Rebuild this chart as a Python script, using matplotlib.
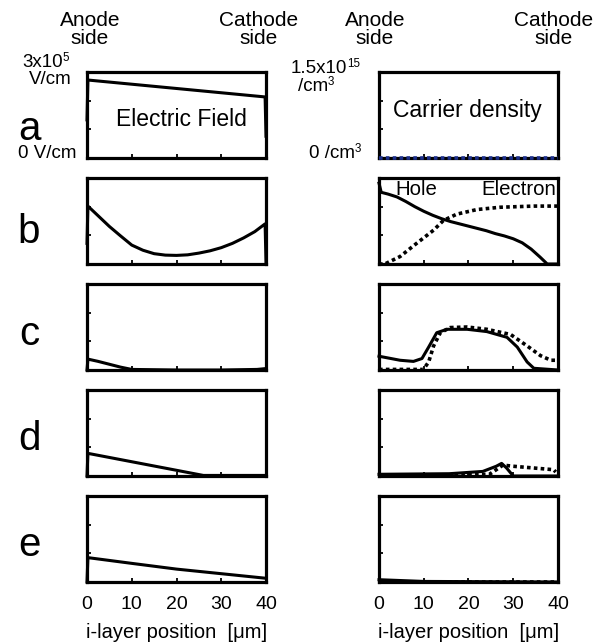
import matplotlib
matplotlib.use("Agg")
import matplotlib.pyplot as plt

plt.rcParams["font.family"] = ["Liberation Sans", "DejaVu Sans"]

# electric field, units of 1e5 V/cm, vs i-layer position [um]
field_a_x = [0, 0.2, 39.8, 40]
field_a = [1.33, 2.72, 2.13, 0.76]
field_b_x = [0, 0.2, 2.5, 5, 7.5, 10, 12.5, 15, 17.5, 20, 22.5, 25, 27.5, 30,
             32.5, 35, 37.5, 39.8, 40]
field_b = [0.72, 2.02, 1.68, 1.31, 0.98, 0.66, 0.48, 0.36, 0.31, 0.30, 0.32,
           0.38, 0.46, 0.57, 0.72, 0.91, 1.13, 1.40, 0.05]
field_c_x = [0, 0.2, 2.5, 5, 7.5, 10, 20, 30, 38, 40]
field_c = [0.0, 0.38, 0.30, 0.20, 0.10, 0.02, 0.0, 0.0, 0.02, 0.05]
field_d_x = [0, 0.2, 26, 40]
field_d = [0.0, 0.79, 0.02, 0.02]
field_e_x = [0, 0.2, 10, 20, 30, 40]
field_e = [0.0, 0.85, 0.65, 0.45, 0.29, 0.13]

# carrier density, units of 1e15 /cm3
hole_a_x = [0, 40]
hole_a = [0.0, 0.0]
elec_a_x = [0, 40]
elec_a = [0.0, 0.0]
hole_b_x = [0, 0.5, 2, 4, 6, 8, 10, 12, 14, 16, 18, 20, 22, 24, 26, 28, 30,
            32, 34, 36, 37.6, 40]
hole_b = [1.41, 1.25, 1.22, 1.17, 1.09, 1.00, 0.92, 0.85, 0.79, 0.74, 0.70,
          0.66, 0.62, 0.58, 0.53, 0.49, 0.44, 0.37, 0.26, 0.12, 0.0, 0.0]
elec_b_x = [0, 1.3, 4.7, 8.4, 12.2, 14.4, 17.4, 21.9, 27.1, 34.6, 40]
elec_b = [0.0, 0.0, 0.13, 0.36, 0.59, 0.76, 0.87, 0.95, 0.99, 1.01, 1.01]
hole_c_x = [0, 4.7, 7.7, 9.6, 11.1, 12.9, 15.2, 19.7, 24.1, 28.6, 30.9, 33.1, 34.6, 40]
hole_c = [0.24, 0.17, 0.15, 0.20, 0.40, 0.65, 0.71, 0.71, 0.67, 0.57, 0.40, 0.14, 0.03, 0.0]
elec_c_x = [0, 9.9, 11.1, 12.2, 13.7, 15.9, 19.7, 24.1, 29.4, 33.1, 36.1, 38.4, 40]
elec_c = [0.01, 0.01, 0.14, 0.42, 0.65, 0.74, 0.75, 0.71, 0.62, 0.42, 0.25, 0.17, 0.17]
hole_d_x = [0, 15.7, 23.2, 26.2, 27.4, 28.5, 30, 40]
hole_d = [0.03, 0.04, 0.08, 0.17, 0.22, 0.14, 0.0, 0.0]
elec_d_x = [0, 24.7, 26.2, 27.7, 30, 34.5, 39, 39.5]
elec_d = [0.0, 0.03, 0.11, 0.19, 0.17, 0.14, 0.11, 0.07]
hole_e_x = [0, 10, 40]
hole_e = [0.04, 0.01, 0.0]
elec_e_x = [0, 40]
elec_e = [0.0, 0.0]

row_labels = ["a", "b", "c", "d", "e"]
x_ticks = [0, 10, 20, 30, 40]

fields = [(field_a_x, field_a), (field_b_x, field_b), (field_c_x, field_c),
          (field_d_x, field_d), (field_e_x, field_e)]
holes = [(hole_a_x, hole_a), (hole_b_x, hole_b), (hole_c_x, hole_c),
         (hole_d_x, hole_d), (hole_e_x, hole_e)]
elecs = [(elec_a_x, elec_a), (elec_b_x, elec_b), (elec_c_x, elec_c),
         (elec_d_x, elec_d), (elec_e_x, elec_e)]

W, H = 608, 643
fig = plt.figure(figsize=(W / 100, H / 100), dpi=100)

DOTS = (0, (1, 0.9))


def px_axes(x0, y0, w, h):
    return fig.add_axes([x0 / W, 1 - (y0 + h) / H, w / W, h / H])


def px_text(x, y, s, **kw):
    return fig.text(x / W, 1 - y / H, s, **kw)


def add_sup(t, sup, size=13.5):
    """Small raised superscript placed right after text t."""
    fig.add_artist(plt.Annotation(sup, xy=(1, 0), xycoords=t,
                                  xytext=(-0.3, 7.5), textcoords="offset points",
                                  fontsize=size * 0.62, va="baseline"))


def style(ax, ymax, last):
    ax.set_xlim(0, 40)
    ax.set_ylim(0, ymax)
    for s in ax.spines.values():
        s.set_linewidth(2.3)
    ax.set_yticks([ymax / 3, 2 * ymax / 3])
    ax.set_yticklabels([])
    ax.tick_params(direction="in", length=3, width=1.3)
    ax.tick_params(axis="x", pad=10, labelsize=14)
    if last:
        ax.set_xticks(x_ticks)
        ax.set_xticklabels([str(t) for t in x_ticks])
        ax.set_xlabel("i-layer position  [μm]", fontsize=14.5, labelpad=7)
    else:
        ax.set_xticks(x_ticks[1:-1])
        ax.set_xticklabels([])


tops = [72, 178, 284, 390, 496]
baselines = [140, 243, 345, 450, 556]
for i, top in enumerate(tops):
    last = i == len(tops) - 1
    axl = px_axes(87, top, 179, 86)
    fx, fv = fields[i]
    axl.plot(fx, fv, color="black", lw=2.2, clip_on=False, zorder=3)
    style(axl, 3.0, last)

    axr = px_axes(379, top, 179, 86)
    hx, hv = holes[i]
    ex, ev = elecs[i]
    axr.plot(hx, hv, color="black", lw=2.2, clip_on=False, zorder=3)
    axr.plot(ex, ev, color="#1c2f8c" if i == 0 else "black", lw=2.6,
             linestyle=DOTS, dash_capstyle="butt", clip_on=False, zorder=3)
    style(axr, 1.5, last)

    px_text(29, baselines[i], row_labels[i], fontsize=29,
            ha="center", va="baseline")

# header texts
for cx, txt in [(90, "Anode\nside"), (259, "Cathode\nside"),
                (375, "Anode\nside"), (554, "Cathode\nside")]:
    px_text(cx, 29.5, txt, fontsize=15, ha="center", va="center",
            linespacing=0.88)

t = px_text(63, 67, "3x10", fontsize=13.5, ha="right", va="baseline")
add_sup(t, "5")
px_text(72, 84, "V/cm", fontsize=13.5, ha="right", va="baseline")
px_text(77, 158, "0 V/cm", fontsize=13.5, ha="right", va="baseline")
t = px_text(291, 73, "1.5x10", fontsize=13.5, ha="left", va="baseline")
add_sup(t, "15")
t = px_text(298, 91, "/cm", fontsize=13.5, ha="left", va="baseline")
add_sup(t, "3")
t = px_text(355, 158, "0 /cm", fontsize=13.5, ha="right", va="baseline")
add_sup(t, "3")

px_text(181, 120, "Electric Field", fontsize=16.5, ha="center", va="center")
px_text(467, 110, "Carrier density", fontsize=16.5, ha="center", va="center")
px_text(416, 190, "Hole", fontsize=14.7, ha="center", va="center")
px_text(519, 190, "Electron", fontsize=14.7, ha="center", va="center")

fig.savefig("out.png", dpi=100)
